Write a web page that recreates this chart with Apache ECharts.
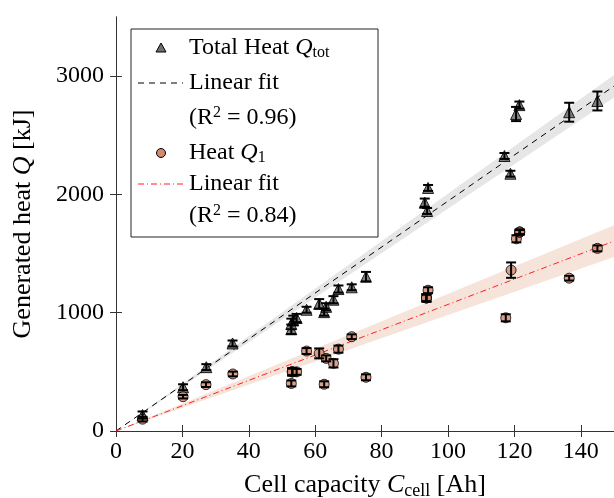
<!DOCTYPE html>
<html><head><meta charset="utf-8">
<script src="https://cdn.jsdelivr.net/npm/echarts@6/dist/echarts.min.js"></script>
<style>html,body{margin:0;padding:0;background:#fff}#c{width:614px;height:498px}</style>
</head><body><div id="c"></div><script>
const xTicks = [0, 20, 40, 60, 80, 100, 120, 140];
const yTicks = [0, 1000, 2000, 3000];

const totalX   = [8, 20.2, 27.2, 35.1, 52.8, 52.8, 53.4, 54.4, 57.4, 61.2, 62.7, 63.3, 65.5, 67, 71, 75.3, 93, 93.7, 94, 117, 118.8, 120.5, 121.5, 136.5, 145];
const totalY   = [135, 370, 540, 740, 860, 905, 935, 955, 1025, 1075, 1005, 1050, 1110, 1200, 1215, 1305, 1930, 1860, 2055, 2325, 2175, 2680, 2755, 2695, 2790];
const totalErr = [30, 25, 25, 25, 40, 45, 40, 35, 25, 40, 30, 30, 30, 30, 25, 40, 35, 25, 25, 25, 25, 60, 30, 80, 80];

const q1X   = [8, 20.2, 27.1, 35.2, 52.8, 53.1, 53.1, 53.1, 54.4, 57.4, 61.2, 62.7, 63.3, 65.5, 67, 71, 75.3, 93.5, 93.5, 93.5, 94, 117.4, 119, 120.6, 121.6, 121.6, 121.6, 136.5, 145];
const q1Y   = [100, 290, 392, 482, 402, 500, 500, 500, 500, 676, 656, 395, 614, 572, 692, 797, 454, 1125, 1125, 1125, 1190, 957, 1360, 1625, 1682, 1682, 1682, 1292, 1544];
const q1Err = [20, 15, 20, 20, 25, 30, 30, 30, 25, 25, 42, 25, 25, 35, 30, 20, 25, 30, 30, 30, 25, 30, 65, 30, 20, 20, 20, 20, 25];

const fitTotal  = [[0, 0], [150, 2916]];
const fitQ1     = [[0, 0], [150, 1605]];
const bandTotal = [[0, 0, 0], [150, 2820, 3010]];
const bandQ1    = [[0, 0, 0], [150, 1472, 1740]];

const SERIF = '"Liberation Serif", "DejaVu Serif", serif';
const chart = echarts.init(document.getElementById('c'), null, {renderer: 'canvas'});

function bandSeries(band, color) {
  return {
    type: 'custom', data: [[0, 0]], clip: true, silent: true, z: 1,
    encode: {x: 0, y: 1}, xAxisIndex: 0, yAxisIndex: 0,
    renderItem: (p, api) => {
      const up = band.map(b => api.coord([b[0], b[2]]));
      const lo = band.slice().reverse().map(b => api.coord([b[0], b[1]]));
      return {type: 'polygon', shape: {points: up.concat(lo)}, style: {fill: color}};
    }
  };
}
function errSeries(xs, ys, es) {
  return {
    type: 'custom', z: 5, clip: true, silent: true,
    data: xs.map((x, i) => [x, ys[i] - es[i], ys[i] + es[i]]),
    encode: {x: 0, y: [1, 2]},
    renderItem: (p, api) => {
      const a = api.coord([api.value(0), api.value(1)]);
      const b = api.coord([api.value(0), api.value(2)]);
      const w = 5, st = {stroke: '#000', lineWidth: 2};
      return {type: 'group', children: [
        {type: 'line', shape: {x1: a[0], y1: a[1], x2: b[0], y2: b[1]}, style: st},
        {type: 'line', shape: {x1: a[0] - w, y1: a[1], x2: a[0] + w, y2: a[1]}, style: st},
        {type: 'line', shape: {x1: b[0] - w, y1: b[1], x2: b[0] + w, y2: b[1]}, style: st}
      ]};
    }
  };
}

const axisCommon = {
  type: 'value', splitLine: {show: false},
  axisLine: {show: true, lineStyle: {color: '#333', width: 1}},
};
const tickX = {show: true, inside: true, length: 6, lineStyle: {color: '#333'}, customValues: xTicks};
const tickY = {show: true, inside: true, length: 6, lineStyle: {color: '#333'}, customValues: yTicks};
const labelStyle = {fontFamily: SERIF, fontSize: 24, color: '#000', formatter: v => String(v)};
const richName = {
  n: {fontFamily: SERIF, fontSize: 26, color: '#000'},
  i: {fontFamily: SERIF, fontSize: 26, fontStyle: 'italic', color: '#000'},
  s: {fontFamily: SERIF, fontSize: 18, color: '#000', padding: [11, 0, 0, 0]}
};
const richLeg = {
  n: {fontFamily: SERIF, fontSize: 24, color: '#000'},
  i: {fontFamily: SERIF, fontSize: 24, fontStyle: 'italic', color: '#000'},
  s: {fontFamily: SERIF, fontSize: 16, color: '#000', padding: [10, 0, 0, 0]},
  p: {fontFamily: SERIF, fontSize: 16, color: '#000', padding: [0, 0, 10, 0]}
};

const lx = 131, ly = 29, lw = 247, lh = 208;
const legendRows = [48, 83, 118, 153, 184, 216];
const graphic = [
  {type: 'rect', z: 100, shape: {x: lx, y: ly, width: lw, height: lh}, style: {fill: '#fff', stroke: '#222', lineWidth: 1}},
  {type: 'polygon', z: 101, shape: {points: [[161, legendRows[0] - 5], [156, legendRows[0] + 4], [166, legendRows[0] + 4]]}, style: {fill: '#707070', stroke: '#000', lineWidth: 1}},
  {type: 'line', z: 101, shape: {x1: 138, y1: legendRows[1], x2: 183, y2: legendRows[1]}, style: {stroke: '#000', lineWidth: 1, lineDash: [6, 5]}},
  {type: 'circle', z: 101, shape: {cx: 161, cy: legendRows[3], r: 4.5}, style: {fill: '#d08a6e', stroke: '#000', lineWidth: 1}},
  {type: 'line', z: 101, shape: {x1: 138, y1: legendRows[4], x2: 183, y2: legendRows[4]}, style: {stroke: '#ff2020', lineWidth: 1, lineDash: [6, 3, 1, 3]}},
];
const legendTexts = [
  '{n|Total Heat }{i|Q}{s|tot}',
  '{n|Linear fit}',
  '{n|(R}{p|2}{n| = 0.96)}',
  '{n|Heat }{i|Q}{s|1}',
  '{n|Linear fit}',
  '{n|(R}{p|2}{n| = 0.84)}'
];
legendTexts.forEach((t, k) => graphic.push({
  type: 'text', z: 102, x: 189, y: legendRows[k],
  style: {text: t, verticalAlign: 'middle', rich: richLeg}
}));

chart.setOption({
  animation: false,
  grid: {left: 116, right: 0, top: 17, bottom: 67, outerBoundsMode: 'none', containLabel: false},
  xAxis: [
    Object.assign({}, axisCommon, {min: 0, max: 150, interval: 20, position: 'bottom', axisTick: tickX,
      axisLabel: Object.assign({margin: 9, customValues: xTicks}, labelStyle),
      name: '{n|Cell capacity }{i|C}{s|cell}{n| [Ah]}', nameLocation: 'middle', nameGap: 40,
      nameTextStyle: {rich: richName}}),
    Object.assign({}, axisCommon, {min: 0, max: 150, interval: 20, position: 'top', axisTick: tickX, axisLabel: {show: false}})
  ],
  yAxis: [
    Object.assign({}, axisCommon, {min: 0, max: 3500, interval: 1000, position: 'left', axisTick: tickY,
      axisLabel: Object.assign({margin: 12, customValues: yTicks}, labelStyle),
      name: '{n|Generated heat }{i|Q}{n| [kJ]}', nameLocation: 'middle', nameGap: 80,
      nameTextStyle: {rich: richName}}),
    Object.assign({}, axisCommon, {min: 0, max: 3500, interval: 1000, position: 'right', axisTick: tickY, axisLabel: {show: false}})
  ],
  graphic: graphic,
  series: [
    bandSeries(bandTotal, '#e6e6e6'),
    bandSeries(bandQ1, '#f6e4da'),
    {type: 'line', data: fitTotal, symbol: 'none', z: 2, lineStyle: {color: '#000', width: 1, type: [6, 5]}},
    {type: 'line', data: fitQ1, symbol: 'none', z: 2, lineStyle: {color: '#ff2020', width: 1, type: [6, 3, 1, 3]}},
    {type: 'scatter', z: 3, data: totalX.map((x, i) => [x, totalY[i]]), symbol: 'triangle', symbolSize: 11,
      itemStyle: {color: '#707070', borderColor: '#000', borderWidth: 1, opacity: 0.85}},
    {type: 'scatter', z: 3, data: q1X.map((x, i) => [x, q1Y[i]]), symbol: 'circle', symbolSize: 10,
      itemStyle: {color: '#d08a6e', borderColor: '#000', borderWidth: 1, opacity: 0.8}},
    errSeries(totalX, totalY, totalErr),
    errSeries(q1X, q1Y, q1Err)
  ]
});
</script></body></html>
